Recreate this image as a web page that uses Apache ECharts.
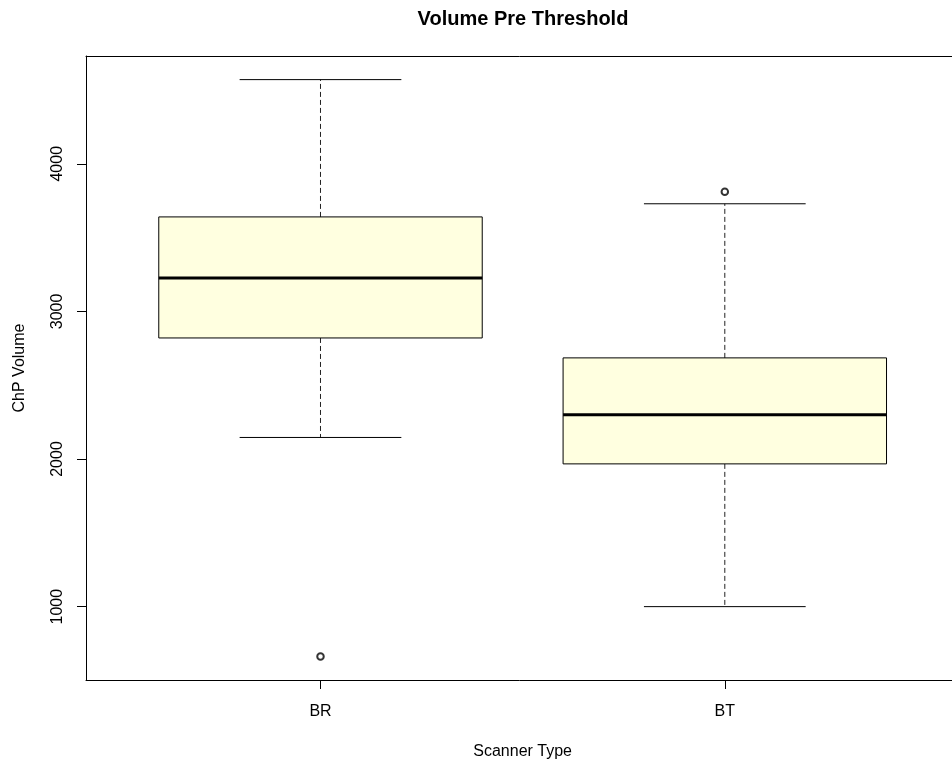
<!DOCTYPE html>
<html>
<head>
<meta charset="utf-8">
<script src="https://cdn.jsdelivr.net/npm/echarts@6/dist/echarts.min.js"></script>
<style>
html,body{margin:0;padding:0;background:#fff;}
#chart{width:952px;height:762px;}
</style>
</head>
<body>
<div id="chart"></div>
<script>
// ---- data ----
var categories   = ['BR', 'BT'];
var lowerWhisker = [2146, 1000];
var q1           = [2820, 1967];
var median       = [3227, 2300];
var q3           = [3640, 2685];
var upperWhisker = [4570, 3729];
var outliers     = [[1, 663], [2, 3810]];   // [category position, value]
var yTicks       = [1000, 2000, 3000, 4000];
var yRange       = [503, 4730];
var xRange       = [0.42, 2.58];

var boxData = categories.map(function (c, i) {
  return [i + 1, lowerWhisker[i], q1[i], median[i], q3[i], upperWhisker[i]];
});

var FONT = '"Liberation Sans", Arial, sans-serif';
var chart = echarts.init(document.getElementById('chart'));

function renderBox(params, api) {
  var x = api.value(0);
  var lw = api.value(1), lq = api.value(2), md = api.value(3), uq = api.value(4), uw = api.value(5);
  var half = 0.4, cap = 0.2;
  var pTL = api.coord([x - half, uq]);
  var pBR = api.coord([x + half, lq]);
  var c = api.coord([x, md]);
  var cL = api.coord([x - half, md]);
  var cR = api.coord([x + half, md]);
  var pUW = api.coord([x, uw]);
  var pLW = api.coord([x, lw]);
  var pUQ = api.coord([x, uq]);
  var pLQ = api.coord([x, lq]);
  var capL = api.coord([x - cap, uw])[0];
  var capR = api.coord([x + cap, uw])[0];
  var dash = {stroke: '#222', lineWidth: 1, lineDash: [5, 3]};
  var solid = {stroke: '#000', lineWidth: 1};
  return {
    type: 'group',
    children: [
      {type: 'line', shape: {x1: pUQ[0], y1: pUQ[1], x2: pUW[0], y2: pUW[1]}, style: dash},
      {type: 'line', shape: {x1: pLQ[0], y1: pLQ[1], x2: pLW[0], y2: pLW[1]}, style: dash},
      {type: 'line', shape: {x1: capL, y1: pUW[1], x2: capR, y2: pUW[1]}, style: solid},
      {type: 'line', shape: {x1: capL, y1: pLW[1], x2: capR, y2: pLW[1]}, style: solid},
      {type: 'rect', shape: {x: pTL[0], y: pTL[1], width: pBR[0] - pTL[0], height: pBR[1] - pTL[1]},
        style: {fill: '#FFFFE0', stroke: '#000', lineWidth: 1}},
      {type: 'line', shape: {x1: cL[0], y1: c[1], x2: cR[0], y2: c[1]}, style: {stroke: '#000', lineWidth: 3}}
    ]
  };
}

chart.setOption({
  animation: false,
  backgroundColor: '#fff',
  title: {
    text: 'Volume Pre Threshold',
    left: 518,
    textAlign: 'center',
    top: 4,
    textStyle: {fontFamily: FONT, fontSize: 20, fontWeight: 'bold', color: '#000'}
  },
  grid: {
    left: 86, top: 56, height: 624, width: 873.3,
    outerBoundsMode: 'none',
    containLabel: false
  },
  xAxis: [{
    type: 'value',
    position: 'bottom',
    min: xRange[0], max: xRange[1],
    name: 'Scanner Type',
    nameLocation: 'middle',
    nameGap: 64,
    nameTextStyle: {fontFamily: FONT, fontSize: 16, color: '#000'},
    axisLine: {show: true, onZero: false, lineStyle: {color: '#000', width: 1}},
    splitLine: {show: false},
    axisTick: {show: true, length: 9, lineStyle: {color: '#000'}, customValues: [1, 2]},
    axisLabel: {
      customValues: [1, 2],
      margin: 24,
      fontFamily: FONT, fontSize: 16, color: '#000',
      formatter: function (v) { return categories[Math.round(v) - 1]; }
    }
  }, {
    type: 'value',
    position: 'top',
    min: xRange[0], max: xRange[1],
    axisLine: {show: true, onZero: false, lineStyle: {color: '#000', width: 1}},
    splitLine: {show: false},
    axisTick: {show: false},
    axisLabel: {show: false}
  }],
  yAxis: {
    type: 'value',
    min: yRange[0], max: yRange[1],
    name: 'ChP Volume',
    nameLocation: 'middle',
    nameRotate: 90,
    nameGap: 58,
    nameTextStyle: {fontFamily: FONT, fontSize: 16, color: '#000'},
    axisLine: {show: true, onZero: false, lineStyle: {color: '#000', width: 1}},
    splitLine: {show: false},
    axisTick: {show: true, length: 9, lineStyle: {color: '#000'}, customValues: yTicks},
    axisLabel: {
      customValues: yTicks,
      rotate: 90,
      margin: 20,
      fontFamily: FONT, fontSize: 16, color: '#000',
      formatter: function (v) { return String(v); }
    }
  },
  series: [
    {
      type: 'custom',
      renderItem: renderBox,
      data: boxData,
      encode: {x: 0, y: [1, 2, 3, 4, 5]},
      clip: false,
      z: 2
    },
    {
      type: 'scatter',
      data: outliers,
      symbol: 'emptyCircle',
      symbolSize: 6.5,
      itemStyle: {color: '#000', borderColor: '#333', borderWidth: 0.8},
      z: 3
    }
  ]
});
</script>
</body>
</html>
